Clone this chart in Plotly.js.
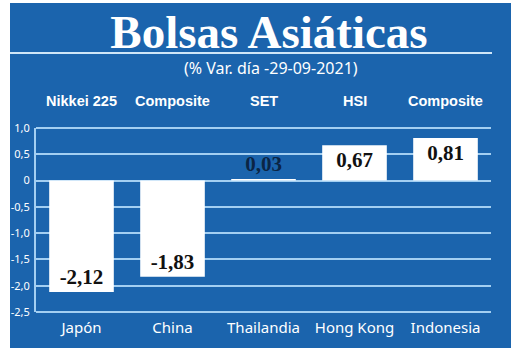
<!DOCTYPE html>
<html><head><meta charset="utf-8">
<script src="https://cdn.plot.ly/plotly-3.0.1.min.js"></script>
<style>
html,body{margin:0;padding:0;background:#fff;width:520px;height:353px;overflow:hidden}
#chart{position:absolute;left:10px;top:3px;width:501px;height:345px}
</style></head><body>
<div id="chart"></div>
<script>
const countries = ['Japón','China','Thailandia','Hong Kong','Indonesia'];
const indices = ['Nikkei 225','Composite','SET','HSI','Composite'];
const values = [-2.12, -1.83, 0.03, 0.67, 0.81];
const valueLabels = ['-2,12','-1,83','0,03','0,67','0,81'];
const tickVals = [1.0, 0.5, 0, -0.5, -1.0, -1.5, -2.0, -2.5];
const tickText = ['1,0','0,5','0','-0,5','-1,0','-1,5','-2,0','-2,5'];
const title = 'Bolsas Asiáticas';
const subtitle = '(% Var. día -29-09-2021)';

const blue = '#1b64ad';
const grid = '#a3cff2';

const trace = {
  type:'bar', x: countries, y: values,
  text: valueLabels, texttemplate:'%{text}',
  textposition: values.map(v => Math.abs(v) < 0.2 ? 'outside' : 'inside'),
  insidetextanchor:'end',
  textangle:0,
  constraintext:'none',
  cliponaxis:false,
  textfont:{family:'Liberation Serif, serif', size:21, color: values.map(v => Math.abs(v) < 0.2 ? '#0b2545' : '#111'), weight:700},
  marker:{color:'#ffffff', line:{width:0}},
  hoverinfo:'none'
};

const annotations = [
  {text:subtitle, xref:'paper', yref:'paper', x:(261-26)/455, y:1+(125-65)/184, xanchor:'center', yanchor:'middle', showarrow:false,
   font:{family:'Noto Sans, sans-serif', size:16, color:'#ffffff'}}
];
indices.forEach((t,i)=>annotations.push({text:t, xref:'x', yref:'paper', x:countries[i], y:1+(125-98)/184,
  xanchor:'center', yanchor:'middle', showarrow:false,
  font:{family:"'Liberation Sans', Arial, sans-serif", size:14.5, color:'#ffffff', weight:700}}));

const layout = {
  width:501, height:345,
  margin:{l:26, r:20, t:125, b:36},
  paper_bgcolor:blue, plot_bgcolor:blue,
  showlegend:false,
  bargap:0.29,
  title:{text:title, x:259/501, xanchor:'center', y:1-29/345, yanchor:'middle', yref:'container', xref:'container',
    font:{family:'Liberation Serif, serif', size:47, color:'#ffffff', weight:700}},
  xaxis:{showgrid:false, zeroline:false, showline:false, ticks:'', ticklabelstandoff:5,
    tickfont:{family:'Noto Sans, sans-serif', size:15, color:'#ffffff'}, fixedrange:true},
  yaxis:{range:[-2.5,1.0], tickvals:tickVals, ticktext:tickText, showgrid:true, gridcolor:grid, gridwidth:2,
    zeroline:false, showline:true, linecolor:grid, linewidth:2, ticks:'', ticklabelstandoff:2,
    tickfont:{family:'Noto Sans, sans-serif', size:11, color:'#ffffff'}, fixedrange:true},
  shapes:[
    {type:'line', xref:'paper', yref:'paper', x0:-26/455, x1:(482-26)/455, y0:1+(125-50)/184, y1:1+(125-50)/184,
     line:{color:'#cfe6f8', width:2}},
    {type:'line', xref:'paper', yref:'paper', x0:0, x1:1, y0:0, y1:0, line:{color:grid, width:2}, layer:'below'},
    {type:'line', xref:'paper', yref:'paper', x0:0, x1:1, y0:1, y1:1, line:{color:grid, width:2}, layer:'below'}
  ],
  annotations:annotations
};
Plotly.newPlot('chart',[trace],layout,{staticPlot:true, displayModeBar:false});
</script></body></html>
